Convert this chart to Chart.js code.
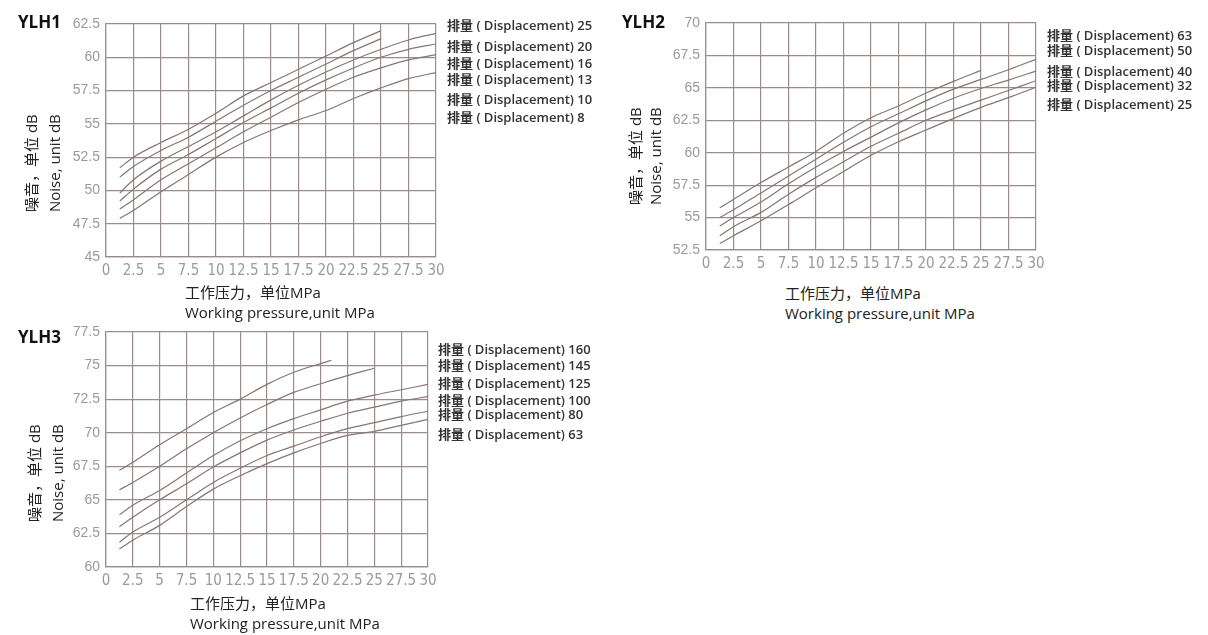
<!DOCTYPE html>
<html lang="zh">
<head>
<meta charset="utf-8">
<title>YLH 噪音曲线</title>
<script src="https://cdn.jsdelivr.net/npm/chart.js@4.4.1/dist/chart.umd.min.js"></script>
<style>
    html, body { margin: 0; padding: 0; background: #fff; }
    #page { position: relative; width: 1208px; height: 635px; overflow: hidden; font-family: "Open Sans", "Noto Sans CJK SC", sans-serif; }
    .box { position: absolute; }
    .model { position: absolute; font-size: 17px; font-weight: 700; color: #111; line-height: 20px; }
    .ytitle { position: absolute; font-size: 15px; color: #222; line-height: 23px; white-space: pre; transform-origin: left top; transform: rotate(-90deg); }
    .xtitle { position: absolute; font-size: 15px; color: #222; line-height: 20px; white-space: pre; }
    .disp { position: absolute; font-size: 13px; font-weight: 600; color: #333; line-height: 16px; white-space: nowrap; }
</style>
</head>
<body>
<div id="page">
    <div class="box" style="left:56px; top:12px; width:392px; height:272px;"><canvas id="ylh1Chart"></canvas></div>
    <div class="box" style="left:656px; top:11px; width:392px; height:266px;"><canvas id="ylh2Chart"></canvas></div>
    <div class="box" style="left:56px; top:320px; width:384px; height:274px;"><canvas id="ylh3Chart"></canvas></div>

    <div class="model" style="left:18px; top:12px;">YLH1</div>
    <div class="model" style="left:622px; top:12px;">YLH2</div>
    <div class="model" style="left:18px; top:327px;">YLH3</div>

    <div class="ytitle" style="left:20px; top:212px;">噪音，单位 dB
Noise, unit dB</div>
    <div class="ytitle" style="left:625px; top:205px; line-height:20px;">噪音，单位 dB
Noise, unit dB</div>
    <div class="ytitle" style="left:23px; top:522px;">噪音，单位 dB
Noise, unit dB</div>

    <div class="xtitle" style="left:185px; top:282px;">工作压力，单位MPa
Working pressure,unit MPa</div>
    <div class="xtitle" style="left:785px; top:283px;">工作压力，单位MPa
Working pressure,unit MPa</div>
    <div class="xtitle" style="left:190px; top:593px;">工作压力，单位MPa
Working pressure,unit MPa</div>

    <div id="legends"></div>
</div>

<script>
// 刻度 (MPa)
const pressureTicks = [0, 2.5, 5, 7.5, 10, 12.5, 15, 17.5, 20, 22.5, 25, 27.5, 30];
// 曲线取样压力 (MPa)
const pressurePoints = [1.25, 2.5, 5, 7.5, 10, 12.5, 15, 17.5, 20, 22.5, 25, 27.5, 30];
const ylh3Pressure = [1.25, 2.5, 5, 7.5, 10, 12.5, 15, 17.5, 20, 21, 22.5, 25, 27.5, 30];

// YLH1
const ylh1Ticks = [45, 47.5, 50, 52.5, 55, 57.5, 60, 62.5];
const ylh1Displacement = [25, 20, 16, 13, 10, 8];
const ylh1Noise = [
    [51.7, 52.5, 53.6, 54.6, 55.8, 57.1, 58.1, 59.1, 60.1, 61.1, 62.0, null, null],
    [51.0, 51.8, 53.0, 54.0, 55.2, 56.4, 57.5, 58.5, 59.5, 60.5, 61.4, null, null],
    [49.8, 50.8, 52.2, 53.3, 54.4, 55.6, 56.8, 57.9, 58.9, 59.8, 60.6, 61.3, 61.8],
    [49.2, 50.1, 51.6, 52.7, 53.9, 55.1, 56.2, 57.3, 58.3, 59.2, 60.0, 60.6, 61.0],
    [48.6, 49.3, 50.8, 52.0, 53.2, 54.4, 55.5, 56.6, 57.6, 58.5, 59.2, 59.8, 60.2],
    [47.9, 48.5, 49.9, 51.2, 52.5, 53.6, 54.5, 55.3, 56.0, 56.9, 57.7, 58.4, 58.85]
];

// YLH2
const ylh2Ticks = [52.5, 55, 57.5, 60, 62.5, 65, 67.5, 70];
const ylh2Displacement = [63, 50, 40, 32, 25];
const ylh2Noise = [
    [55.75, 56.4, 57.7, 58.9, 60.1, 61.5, 62.7, 63.6, 64.6, 65.5, 66.35, null, null],
    [55.0, 55.6, 56.9, 58.2, 59.5, 60.8, 62.0, 63.0, 64.0, 64.9, 65.65, 66.4, 67.2],
    [54.35, 55.0, 56.2, 57.6, 58.9, 60.1, 61.2, 62.3, 63.3, 64.2, 64.95, 65.6, 66.3],
    [53.6, 54.3, 55.4, 56.8, 58.1, 59.3, 60.5, 61.5, 62.5, 63.3, 64.05, 64.8, 65.55],
    [53.0, 53.6, 54.75, 56.0, 57.3, 58.55, 59.8, 60.85, 61.75, 62.65, 63.5, 64.25, 65.05]
];

// YLH3
const ylh3Ticks = [60, 62.5, 65, 67.5, 70, 72.5, 75, 77.5];
const ylh3Displacement = [160, 145, 125, 100, 80, 63];
const ylh3Noise = [
    [67.2, 67.8, 69.1, 70.3, 71.5, 72.5, 73.6, 74.5, 75.15, 75.4, null, null, null, null],
    [65.75, 66.3, 67.5, 68.8, 70.0, 71.1, 72.1, 73.0, 73.65, null, 74.25, 74.8, null, null],
    [63.9, 64.6, 65.7, 67.0, 68.3, 69.4, 70.3, 71.05, 71.7, null, 72.35, 72.8, 73.2, 73.6],
    [63.0, 63.7, 65.0, 66.2, 67.45, 68.5, 69.45, 70.2, 70.85, null, 71.45, 71.9, 72.35, 72.7],
    [61.85, 62.6, 63.7, 65.0, 66.3, 67.35, 68.3, 69.0, 69.7, null, 70.3, 70.75, 71.2, 71.6],
    [61.35, 62.0, 63.1, 64.5, 65.8, 66.8, 67.7, 68.5, 69.2, null, 69.8, 70.1, 70.55, 71.0]
];

// 图例文字位置 (页面坐标)
const legendSpots = [
    { left: 447, tops: [25, 46, 63, 79, 99, 117], values: ylh1Displacement },
    { left: 1047, tops: [35, 50, 71, 85, 104], values: ylh2Displacement },
    { left: 438, tops: [349, 365, 383, 400, 414, 434], values: ylh3Displacement }
];

const gridColor = '#9c8b8b';
const lineColor = '#847676';

function buildPoints(pressure, values) {
    return pressure
        .map((p, i) => ({ x: p, y: values[i] }))
        .filter(pt => pt.y !== null);
}

function createNoiseChart(canvasId, pressure, noise, yTicks) {
    const ctx = document.getElementById(canvasId);
    if (!ctx) return null;

    return new Chart(ctx, {
        type: 'line',
        data: {
            datasets: noise.map(values => ({
                data: buildPoints(pressure, values),
                borderColor: lineColor,
                borderWidth: 1.2,
                pointRadius: 0,
                fill: false,
                cubicInterpolationMode: 'monotone'
            }))
        },
        options: {
            responsive: true,
            maintainAspectRatio: false,
            animation: false,
            layout: { padding: { top: 12, right: 12, left: 0, bottom: 0 } },
            plugins: {
                legend: { display: false },
                tooltip: { enabled: false }
            },
            scales: {
                x: {
                    type: 'linear',
                    min: pressureTicks[0],
                    max: pressureTicks[pressureTicks.length - 1],
                    afterBuildTicks: scale => {
                        scale.ticks = pressureTicks.map(v => ({ value: v }));
                    },
                    afterFit: scale => {
                        scale.height = 27;
                        scale.paddingLeft = 0;
                        scale.paddingRight = 0;
                    },
                    grid: { color: gridColor, lineWidth: 1.2, drawTicks: false },
                    border: { color: gridColor, width: 1.2 },
                    ticks: {
                        autoSkip: false,
                        maxRotation: 0,
                        padding: 5,
                        color: '#9a9a9a',
                        font: { family: '"Liberation Sans Narrow", "DejaVu Sans Condensed", sans-serif', size: 15 }
                    }
                },
                y: {
                    min: yTicks[0],
                    max: yTicks[yTicks.length - 1],
                    afterBuildTicks: scale => {
                        scale.ticks = yTicks.map(v => ({ value: v }));
                    },
                    afterFit: scale => {
                        scale.width = 50;
                        scale.paddingTop = 0;
                        scale.paddingBottom = 0;
                    },
                    grid: { color: gridColor, lineWidth: 1.2, drawTicks: false },
                    border: { color: gridColor, width: 1.2 },
                    ticks: {
                        autoSkip: false,
                        padding: 6,
                        color: '#9a9a9a',
                        font: { family: '"Liberation Sans", Arial, sans-serif', size: 14 }
                    }
                }
            }
        }
    });
}

function drawLegends() {
    const holder = document.getElementById('legends');
    holder.innerHTML = legendSpots.map(spot =>
        spot.values.map((v, i) =>
            `<div class="disp" style="left:${spot.left}px; top:${spot.tops[i] - 8}px;">排量 ( Displacement) ${v}</div>`
        ).join('')
    ).join('');
}

document.addEventListener('DOMContentLoaded', () => {
    createNoiseChart('ylh1Chart', pressurePoints, ylh1Noise, ylh1Ticks);
    createNoiseChart('ylh2Chart', pressurePoints, ylh2Noise, ylh2Ticks);
    createNoiseChart('ylh3Chart', ylh3Pressure, ylh3Noise, ylh3Ticks);
    drawLegends();
});
</script>
</body>
</html>
